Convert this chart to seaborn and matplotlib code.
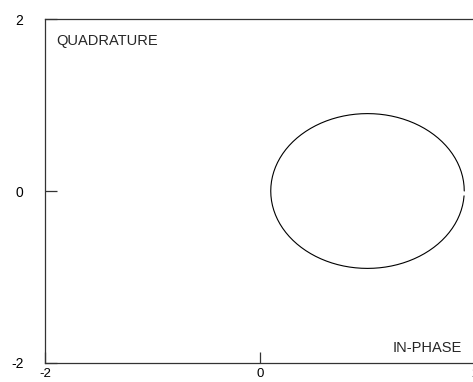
import numpy as np
import pandas as pd
import matplotlib
matplotlib.use("Agg")
import matplotlib.pyplot as plt
import seaborn as sns

# Locus parameters: circle in the I/Q plane
center_i = 1.0
center_q = 0.0
radius = 0.9
n_samples = 100

x_ticks = [-2, 0, 2]
y_ticks = [-2, 0, 2]
x_label = "IN-PHASE"
y_label = "QUADRATURE"

theta = np.linspace(0, 2 * np.pi, n_samples, endpoint=False)
df = pd.DataFrame({
    "i": center_i + radius * np.cos(theta),
    "q": center_q + radius * np.sin(theta),
})

sns.set_theme(style="white")
plt.rcParams["font.family"] = ["Liberation Sans", "DejaVu Sans"]

fig = plt.figure(figsize=(4.73, 3.82), dpi=100)
W, H = 473, 382
left, right, top, bottom = 45, 475, 19, 363
ax = fig.add_axes([left / W, 1 - bottom / H, (right - left) / W, (bottom - top) / H])

sns.lineplot(data=df, x="i", y="q", sort=False, estimator=None,
             color="black", linewidth=0.8, ax=ax)

ax.set_xlim(-2, 2)
ax.set_ylim(-2, 2)
ax.set_xticks(x_ticks)
ax.set_yticks(y_ticks)
ax.set_xticklabels([str(v) for v in x_ticks])
ax.set_yticklabels([str(v) for v in y_ticks])
ax.set_xlabel("")
ax.set_ylabel("")

for s in ax.spines.values():
    s.set_color("#333333")
    s.set_linewidth(0.9)

ax.tick_params(axis="x", direction="in", length=8, width=0.9, color="#333333",
               pad=3.5, labelsize=9.5, labelcolor="black", bottom=True)
ax.tick_params(axis="y", direction="in", length=8.6, width=0.9, color="#333333",
               pad=15.5, labelsize=10, labelcolor="black", left=True)

ax.text((56.5 - left) / (right - left), 1 - (45 - top) / (bottom - top), y_label,
        transform=ax.transAxes, fontsize=10.5, ha="left", va="baseline")
ax.text((462 - left) / (right - left), 1 - (352 - top) / (bottom - top), x_label,
        transform=ax.transAxes, fontsize=10.5, ha="right", va="baseline")

fig.savefig("out.png", dpi=100)
